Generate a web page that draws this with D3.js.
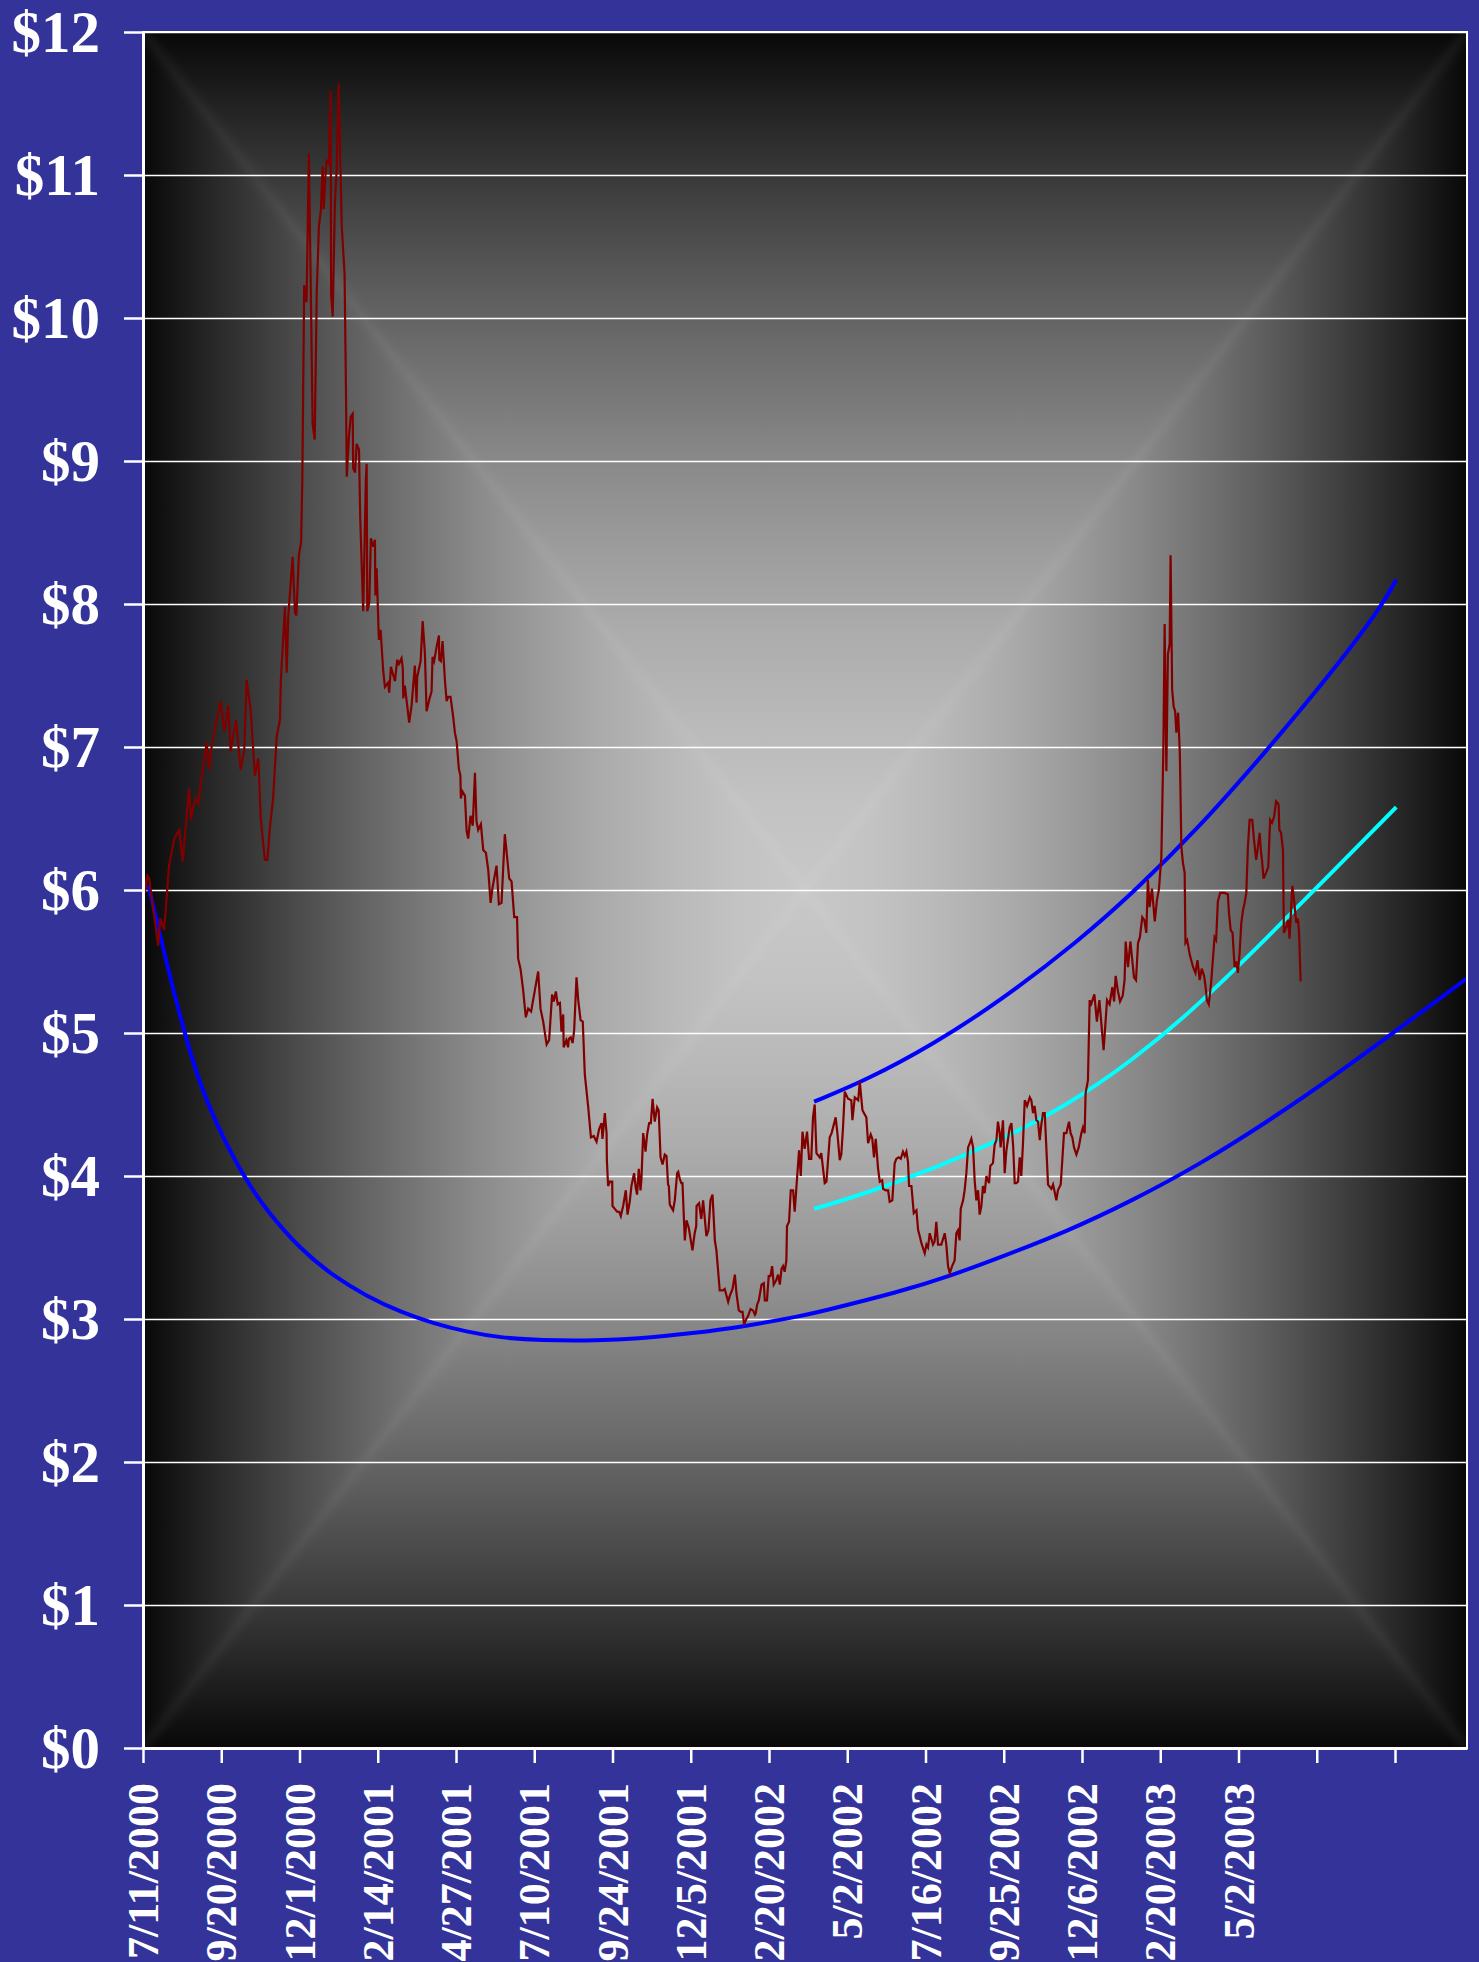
<!DOCTYPE html>
<html>
<head>
<meta charset="utf-8">
<script src="https://cdn.jsdelivr.net/npm/d3@7"></script>
<style>
  html, body { margin: 0; padding: 0; background: #333399; }
  svg { display: block; }
</style>
</head>
<body>
<script>
// x axis: trading-day number, a tick every 50 days
const tickLabels = ["7/11/2000", "9/20/2000", "12/1/2000", "2/14/2001", "4/27/2001",
  "7/10/2001", "9/24/2001", "12/5/2001", "2/20/2002", "5/2/2002", "7/16/2002",
  "9/25/2002", "12/6/2002", "2/20/2003", "5/2/2003", "", ""];
const dayCount = 846;

// daily close, [trading day, $]
const price = [
  [0,6.20],[1.3,5.98],[2.8,6.10],[4,6.08],[5.5,5.95],[8,5.75],[9.7,5.61],[11,5.80],[13.5,5.72],[15,5.93],
  [16.6,6.17],[17.9,6.24],[20,6.36],[23.2,6.42],[25.3,6.20],[26.8,6.38],[29.4,6.71],[30.7,6.49],[32,6.58],[33.9,6.64],
  [35.4,6.61],[37,6.76],[40.7,7.03],[42.2,6.84],[43.4,6.97],[46,7.14],[49.6,7.32],[52,7.11],[54.5,7.29],[56,6.97],
  [59.4,7.19],[62.4,6.84],[64.7,6.98],[66.2,7.47],[68.8,7.26],[71.5,6.80],[73.7,6.92],[75.2,6.50],[77.9,6.21],[79.5,6.21],
  [81.1,6.44],[83.2,6.65],[85.4,7.07],[87.5,7.19],[88.1,7.47],[90.7,7.98],[91.8,7.52],[92.8,7.91],[95.6,8.33],[97.1,7.94],
  [98,7.92],[99.6,8.34],[101,8.43],[101.8,8.87],[103,10.23],[104.5,10.11],[106,11.15],[108.4,9.26],[109.7,9.15],[111,10.17],
  [112.4,10.64],[113.7,10.76],[114.8,11.06],[115.5,10.76],[116.5,10.98],[117.3,11.10],[118.8,11.08],[119.9,11.59],[120.2,10.17],[121.2,10.01],
  [122.6,10.80],[123.7,11.03],[125,11.64],[127,10.64],[128.8,10.31],[129.7,9.47],[130.2,8.89],[131.6,9.17],[132.7,9.31],[134,9.33],
  [134.3,8.95],[135.5,8.92],[136.5,9.12],[138,9.08],[138.8,8.60],[140.7,7.95],[142.4,8.87],[142.9,8.98],[143.3,7.95],[144.6,8.01],
  [145.6,8.46],[147.1,8.40],[148.2,8.45],[148.5,8.06],[149.3,8.25],[150.7,7.75],[151.8,7.82],[153.5,7.53],[154.6,7.42],[156.7,7.45],
  [157.3,7.38],[158.4,7.56],[161,7.46],[162.4,7.61],[163.5,7.58],[165.2,7.62],[166,7.55],[166.3,7.34],[167.3,7.43],[170.1,7.17],
  [171.6,7.29],[173.7,7.57],[174.8,7.31],[175.2,7.49],[177.4,7.60],[178.7,7.88],[180.1,7.66],[181.2,7.25],[182.9,7.33],[184.4,7.39],
  [185,7.63],[186,7.60],[187.6,7.70],[189.1,7.78],[189.3,7.61],[190.3,7.60],[191.4,7.74],[192.9,7.47],[194,7.32],[195,7.35],
  [196.5,7.35],[198.2,7.21],[199.3,7.10],[200.4,7.04],[201.8,6.85],[202.8,6.80],[203.1,6.64],[204,6.69],[205.7,6.66],[206.8,6.41],
  [207.8,6.36],[209.3,6.52],[210.7,6.45],[212.1,6.82],[213.1,6.48],[214.2,6.42],[215.9,6.46],[217.4,6.28],[219.1,6.26],[220.6,6.14],
  [222.1,5.91],[223.4,6.02],[225.9,6.17],[227.4,5.90],[229.1,5.91],[231.2,6.39],[234,6.08],[235.5,6.06],[237.2,5.81],[239,5.81],
  [239.7,5.52],[241.2,5.45],[242.9,5.30],[244.6,5.11],[246.1,5.17],[248,5.15],[250.4,5.30],[252.5,5.43],[254,5.17],[255.7,5.08],
  [257.9,4.92],[259.5,4.95],[261.4,5.27],[262.5,5.22],[263.8,5.29],[265,5.20],[266.4,5.21],[267.4,5.01],[268.5,5.13],[268.8,4.90],
  [270.5,4.95],[271.6,4.90],[272.1,4.96],[273.3,4.97],[274.5,4.93],[275.5,5.02],[277,5.39],[278.1,5.23],[279.6,5.09],[281,5.08],
  [282.3,4.71],[284.5,4.48],[286.2,4.27],[288,4.28],[289.8,4.24],[291.5,4.33],[293,4.37],[293.6,4.26],[295.1,4.44],[296.2,4.30],
  [296.4,4.11],[297.2,3.93],[298.3,3.96],[299.8,3.96],[300,3.79],[301.5,3.77],[302.9,3.75],[304.3,3.75],[305.3,3.72],[306.8,3.79],
  [308.5,3.90],[309.6,3.73],[311,3.82],[312.1,3.93],[313.8,4.02],[314.8,3.92],[315.7,3.87],[316.8,4.05],[317.9,3.90],[318.5,3.98],
  [319.6,4.30],[321.1,4.17],[322.1,4.29],[323.4,4.37],[324.5,4.37],[325.6,4.54],[327,4.38],[328.5,4.48],[329.5,4.46],[330.7,4.13],
  [332,4.08],[333.4,4.15],[334.5,4.14],[335.5,3.94],[336,3.93],[336.6,3.80],[338.7,3.76],[339.8,3.83],[341.3,4.02],[342,4.03],
  [343,3.98],[344,3.95],[344.7,3.95],[346.2,3.55],[347.3,3.69],[348.7,3.64],[351.1,3.48],[352.5,3.60],[353.5,3.65],[353.7,3.79],
  [355.3,3.81],[356.7,3.70],[357.9,3.83],[360,3.58],[361.3,3.62],[362.6,3.83],[363.9,3.87],[365.4,3.55],[366.4,3.48],[368.5,3.20],
  [370.6,3.20],[371.7,3.21],[373.9,3.12],[374.9,3.16],[376.7,3.21],[378.2,3.31],[379.2,3.18],[380.7,3.06],[382,3.05],[383.1,3.05],
  [384.1,2.96],[385.5,3.00],[386.6,3.02],[388.2,3.07],[389.8,3.06],[391,3.03],[391.5,3.04],[392.4,3.10],[393.5,3.13],[395.2,3.24],
  [396.7,3.25],[397.3,3.13],[398.7,3.13],[399.8,3.30],[400.9,3.30],[402,3.37],[403,3.24],[404.6,3.27],[405.8,3.31],[406.9,3.24],
  [408,3.35],[409,3.37],[410,3.33],[411.1,3.41],[411.5,3.65],[412.8,3.68],[413.9,3.90],[415.4,3.90],[416.4,3.75],[417.9,3.98],
  [419.2,4.18],[420.3,4.00],[421.4,4.31],[422.8,4.19],[424.3,4.31],[425.6,4.12],[427,4.12],[428.1,4.41],[429.2,4.50],[430.3,4.16],
  [432.4,4.13],[433.4,4.16],[435.6,3.95],[436.7,3.96],[438.8,4.27],[440,4.30],[442.6,4.41],[443.7,4.30],[445.2,4.11],[446.2,4.15],
  [447.3,4.34],[448.4,4.59],[450.5,4.54],[452.6,4.53],[453.3,4.39],[454.8,4.55],[457,4.53],[458,4.66],[459.7,4.46],[462.2,4.41],
  [463.3,4.23],[465,4.29],[466,4.26],[467.1,4.13],[468.2,4.26],[469.7,4.05],[470.8,3.96],[472.3,3.97],[472.9,3.91],[474.6,3.90],
  [476.1,3.90],[477.1,3.82],[478.8,3.83],[480.3,4.09],[481.4,4.12],[482.9,4.13],[484.2,4.12],[485.6,4.17],[486.7,4.14],[487.8,4.17],
  [488.8,4.10],[489.5,3.93],[491,3.93],[492.5,3.74],[494.2,3.76],[495.3,3.62],[496.3,3.58],[497.4,3.53],[499.5,3.46],[500.6,3.52],
  [501.6,3.50],[502.7,3.60],[504.8,3.52],[505.8,3.54],[506.9,3.68],[508,3.52],[510.1,3.52],[512.3,3.60],[513.3,3.52],[514.4,3.37],
  [515.5,3.32],[517,3.37],[518.6,3.41],[519.7,3.60],[520.7,3.62],[521.8,3.55],[522.5,3.77],[524,3.83],[525,3.90],[526.1,4.02],
  [527.2,4.20],[528.3,4.23],[529.3,4.26],[530.4,4.20],[531.4,3.97],[532.5,3.83],[533.6,3.90],[534.6,3.73],[535.7,3.79],[536.7,3.93],
  [537.8,3.88],[538.9,4.00],[540.6,3.95],[541.4,4.07],[543.1,4.09],[544.2,4.22],[545.3,4.25],[546.3,4.38],[547.4,4.30],[548,4.20],
  [549.5,4.39],[550.6,4.02],[551.7,4.18],[553.8,4.34],[554.9,4.37],[556,4.21],[557,3.95],[558,3.95],[559.1,3.96],[560.2,4.13],
  [561.2,4.00],[562.3,4.23],[563.4,4.53],[564.9,4.49],[566.6,4.55],[567.6,4.53],[568.7,4.44],[569.7,4.49],[570.8,4.39],[571.9,4.38],
  [573,4.25],[574,4.36],[575.1,4.44],[576.2,4.44],[577.2,4.20],[578.3,3.94],[580.4,3.91],[581.5,3.94],[582.5,3.89],[583.6,3.83],
  [584.6,3.90],[586.4,3.94],[587.4,4.11],[588.5,4.30],[590,4.30],[591.7,4.38],[592.7,4.30],[593.8,4.27],[594.9,4.20],[596.4,4.15],
  [597.9,4.20],[599.6,4.30],[600.6,4.34],[601.7,4.30],[602.3,4.58],[603.8,4.67],[604.9,5.23],[605.5,5.19],[607.9,5.27],[609.5,5.08],
  [611.1,5.23],[613.8,4.88],[616,5.23],[617.6,5.20],[619.4,5.32],[620.5,5.22],[621.5,5.40],[623,5.29],[624.3,5.22],[626,5.26],
  [627.2,5.37],[627.9,5.64],[629.4,5.46],[630.9,5.64],[632.2,5.50],[633.2,5.39],[634.5,5.37],[635.8,5.63],[637,5.67],[638.5,5.81],
  [639.8,5.79],[641.1,5.70],[642.1,6.07],[643.2,5.88],[644.7,6.01],[646.5,5.78],[647.9,5.93],[649.2,6.01],[650.7,6.23],[652,7.00],
  [652.8,7.86],[653.9,6.83],[654.9,7.65],[656,7.72],[656.6,8.34],[657.6,7.40],[658.6,7.28],[659.5,7.25],[660.3,7.10],[661.4,7.24],
  [662.5,6.96],[663.5,6.30],[664.5,6.19],[665.6,6.12],[666.1,5.63],[667.2,5.65],[668.8,5.55],[670,5.50],[671,5.46],[672.5,5.42],
  [673.8,5.51],[675.2,5.37],[676.5,5.45],[678,5.40],[679,5.32],[679.8,5.23],[681,5.20],[682.5,5.35],[684.7,5.67],[685.7,5.65],
  [686.8,5.92],[688.3,5.98],[691,5.98],[693.2,5.97],[693.9,5.84],[695,5.72],[696.2,5.70],[697.5,5.46],[698.6,5.50],[699.6,5.42],
  [700.7,5.56],[701.8,5.77],[702.9,5.86],[703.9,5.91],[705,5.98],[706,6.30],[707.1,6.49],[708.8,6.49],[709.9,6.35],[711.3,6.21],
  [712.4,6.30],[713.5,6.40],[714.5,6.25],[715,6.21],[716,6.08],[717.6,6.12],[719,6.16],[720.2,6.49],[721.4,6.47],[722.7,6.51],
  [724,6.62],[725.6,6.60],[726.1,6.42],[727.2,6.40],[728.4,6.28],[729,5.70],[730.5,5.74],[731.7,5.79],[732.6,5.66],[734.4,6.03],
  [735.5,5.93],[736.9,5.77],[738,5.80],[738.7,5.70],[739.7,5.36]
];

// trend curves, [trading day, $]
const lowerTrend = [
  [3.5,6.03],[9.8,5.74],[15.1,5.49],[21.5,5.21],[27.9,4.95],[36.4,4.64],[47.1,4.36],[57.7,4.13],[68.3,3.93],[79,3.76],
  [100.3,3.49],[121.6,3.30],[142.9,3.16],[164.2,3.05],[185.4,2.97],[206.8,2.91],[228,2.87],[253.6,2.85],[291.9,2.85],[314.3,2.86],
  [351.5,2.90],[385.6,2.95],[419.7,3.02],[432.4,3.05],[483.6,3.19],[515.5,3.30],[547.4,3.43],[590,3.61],[632.5,3.83],[675.1,4.08],
  [720,4.39],[760,4.69],[800,5.01],[828.4,5.24],[845.7,5.38]
];
const upperTrend = [
  [428.8,4.52],[462.2,4.67],[504.8,4.92],[547.4,5.22],[598.5,5.65],[632.5,5.98],[675.1,6.44],[717.7,6.97],[760.3,7.53],[791.2,7.98],
  [800.8,8.17]
];
const midTrend = [
  [428.8,3.77],[462.2,3.88],[504.8,4.05],[547.4,4.25],[590,4.49],[632.5,4.81],[673,5.18],[717.7,5.66],[760.3,6.13],[800.8,6.58]
];

const W = 1479, H = 1962;
const plot = {left: 143, top: 32, right: 1467, bottom: 1748};
const serif = '"Liberation Serif", "Times New Roman", Times, serif';

const x = d3.scaleLinear().domain([0, dayCount]).range([plot.left, plot.right]);
const y = d3.scaleLinear().domain([0, 12]).range([plot.bottom, plot.top]);

const svg = d3.select("body").append("svg")
  .attr("width", W)
  .attr("height", H);

svg.append("rect")
  .attr("width", W)
  .attr("height", H)
  .attr("fill", "#333399");

// rectangular "from centre" shading: four triangles, each a linear ramp
const cx = (plot.left + plot.right) / 2, cy = (plot.top + plot.bottom) / 2;
const ramp = [[0, 8], [0.1, 38], [0.2, 66], [0.3, 92], [0.4, 115], [0.5, 137],
  [0.6, 156], [0.7, 172], [0.8, 185], [0.9, 195], [1, 200]];
const defs = svg.append("defs");
const sides = [
  {id: "gTop", from: [cx, plot.top], pts: [[plot.left, plot.top], [plot.right, plot.top]]},
  {id: "gBottom", from: [cx, plot.bottom], pts: [[plot.left, plot.bottom], [plot.right, plot.bottom]]},
  {id: "gLeft", from: [plot.left, cy], pts: [[plot.left, plot.top], [plot.left, plot.bottom]]},
  {id: "gRight", from: [plot.right, cy], pts: [[plot.right, plot.top], [plot.right, plot.bottom]]}
];
sides.forEach(s => {
  const g = defs.append("linearGradient")
    .attr("id", s.id)
    .attr("gradientUnits", "userSpaceOnUse")
    .attr("x1", s.from[0]).attr("y1", s.from[1])
    .attr("x2", cx).attr("y2", cy);
  ramp.forEach(([o, v]) => g.append("stop")
    .attr("offset", o)
    .attr("stop-color", d3.rgb(v, v, v)));
});
defs.append("filter")
  .attr("id", "soft")
  .attr("x", "-10%").attr("y", "-10%").attr("width", "120%").attr("height", "120%")
  .append("feGaussianBlur")
  .attr("stdDeviation", 4);
defs.append("clipPath")
  .attr("id", "plotClip")
  .append("rect")
  .attr("x", plot.left).attr("y", plot.top)
  .attr("width", plot.right - plot.left).attr("height", plot.bottom - plot.top);

svg.append("g").selectAll("polygon")
  .data(sides)
  .join("polygon")
  .attr("points", d => [...d.pts, [cx, cy]].map(p => p.join(",")).join(" "))
  .attr("fill", d => `url(#${d.id})`)
  .attr("stroke", d => `url(#${d.id})`)
  .attr("stroke-width", 1.5)
  .attr("stroke-linejoin", "round");

// faint light ridges along the diagonals of the shading
const corners = [[plot.left, plot.top], [plot.right, plot.top], [plot.left, plot.bottom], [plot.right, plot.bottom]];
svg.append("g")
  .attr("clip-path", "url(#plotClip)")
  .attr("filter", "url(#soft)")
  .selectAll("line")
  .data(corners)
  .join("line")
  .attr("x1", d => d[0]).attr("y1", d => d[1])
  .attr("x2", cx).attr("y2", cy)
  .attr("stroke", "#ffffff")
  .attr("stroke-opacity", 0.05)
  .attr("stroke-width", 8);

// gridlines
svg.append("g")
  .attr("transform", `translate(${plot.left},0)`)
  .call(d3.axisLeft(y).ticks(12).tickSize(-(plot.right - plot.left)).tickFormat(""))
  .call(g => g.select(".domain").remove())
  .selectAll("line")
  .attr("stroke", "#ffffff")
  .attr("stroke-width", 1.4);

// curves
const curve = d3.line()
  .x(d => x(d[0]))
  .y(d => y(d[1]))
  .curve(d3.curveBasis);

svg.append("path")
  .datum(lowerTrend)
  .attr("d", curve)
  .attr("fill", "none")
  .attr("stroke", "#0000ff")
  .attr("stroke-width", 4);

svg.append("path")
  .datum(upperTrend)
  .attr("d", curve)
  .attr("fill", "none")
  .attr("stroke", "#0000ff")
  .attr("stroke-width", 4);

svg.append("path")
  .datum(midTrend)
  .attr("d", curve)
  .attr("fill", "none")
  .attr("stroke", "#00ffff")
  .attr("stroke-width", 4);

svg.append("path")
  .datum(price)
  .attr("d", d3.line().x(d => x(d[0])).y(d => y(d[1])))
  .attr("fill", "none")
  .attr("stroke", "#800000")
  .attr("stroke-width", 2.2);

// plot frame
svg.append("rect")
  .attr("x", plot.left).attr("y", plot.top)
  .attr("width", plot.right - plot.left).attr("height", plot.bottom - plot.top)
  .attr("fill", "none")
  .attr("stroke", "#ffffff")
  .attr("stroke-width", 2);

// y axis
svg.append("g")
  .attr("transform", `translate(${plot.left},0)`)
  .call(d3.axisLeft(y).ticks(12).tickSize(19).tickSizeOuter(0).tickPadding(24).tickFormat(d => "$" + d))
  .call(g => g.select(".domain").attr("stroke", "#ffffff").attr("stroke-width", 3))
  .call(g => g.selectAll("line").attr("stroke", "#ffffff").attr("stroke-width", 2.5))
  .call(g => g.selectAll("text")
    .attr("fill", "#ffffff")
    .attr("font-family", serif)
    .attr("font-weight", "bold")
    .attr("font-size", 59)
    .attr("dy", "0.33em"));

// x axis
svg.append("g")
  .attr("transform", `translate(0,${plot.bottom})`)
  .call(d3.axisBottom(x)
    .tickValues(d3.range(0, 801, 50))
    .tickSize(15)
    .tickSizeOuter(0)
    .tickFormat((d, i) => tickLabels[i]))
  .call(g => g.select(".domain").attr("stroke", "#ffffff").attr("stroke-width", 3))
  .call(g => g.selectAll("line").attr("stroke", "#ffffff").attr("stroke-width", 2.5))
  .call(g => g.selectAll("text")
    .attr("fill", "#ffffff")
    .attr("font-family", serif)
    .attr("font-weight", "bold")
    .attr("font-size", 44)
    .attr("text-anchor", "end")
    .attr("transform", "rotate(-90)")
    .attr("x", -35)
    .attr("y", 0)
    .attr("dy", "0.33em"));
</script>
</body>
</html>
